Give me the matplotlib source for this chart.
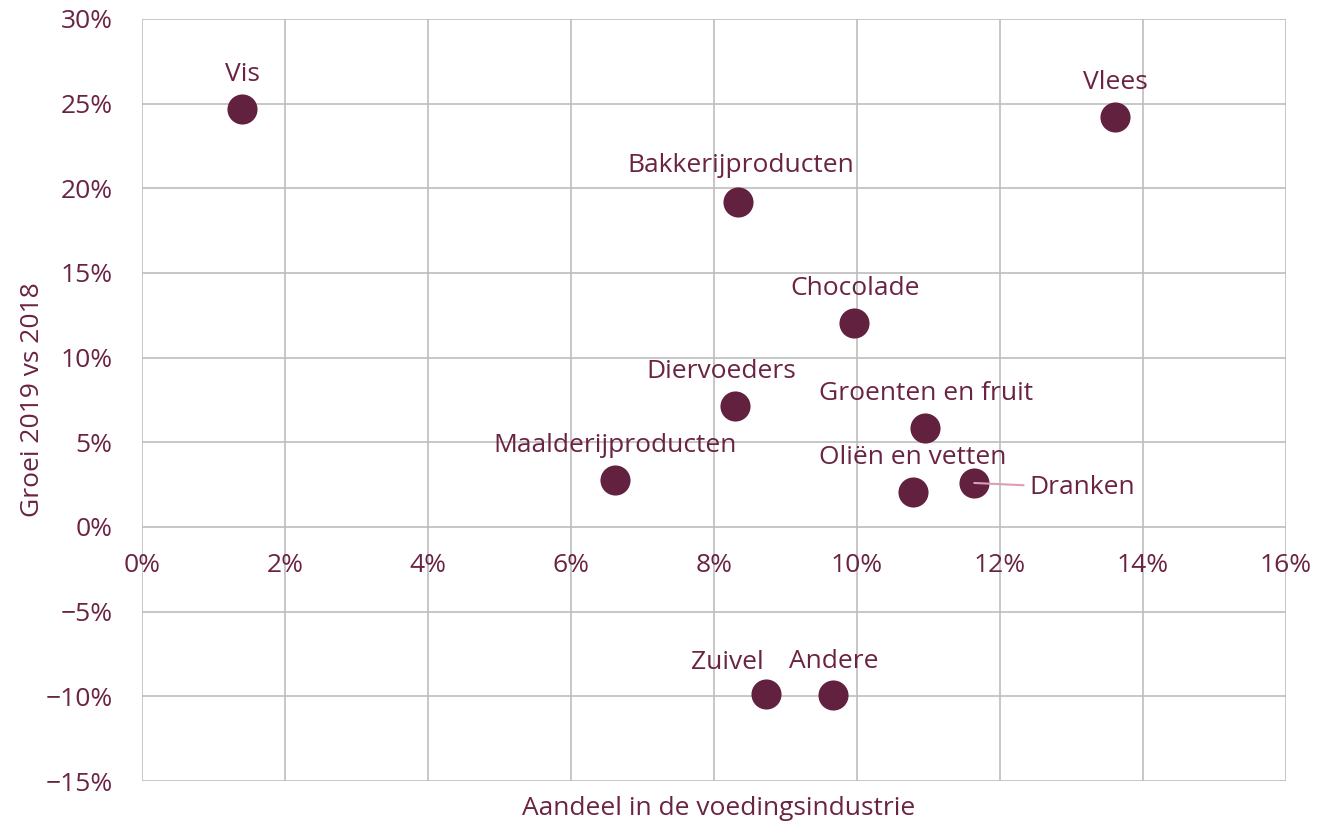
import matplotlib
matplotlib.use("Agg")
import matplotlib.pyplot as plt
from matplotlib.ticker import FuncFormatter

plt.rcParams["font.family"] = ["Open Sans", "DejaVu Sans"]

# data
categories = ["Vis", "Vlees", "Bakkerijproducten", "Chocolade", "Diervoeders",
              "Groenten en fruit", "Maalderijproducten", "Oliën en vetten",
              "Dranken", "Zuivel", "Andere"]
aandeel = [1.40, 13.61, 8.34, 9.96, 8.29, 10.95, 6.62, 10.78, 11.64, 8.73, 9.66]
groei = [24.7, 24.2, 19.2, 12.05, 7.15, 5.85, 2.78, 2.07, 2.6, -9.86, -9.92]

# label offsets in pixels (dx, dy)
offsets = {
    "Vis": (0, 34), "Vlees": (0, 35), "Bakkerijproducten": (2, 36),
    "Chocolade": (1, 34), "Diervoeders": (-13, 34), "Groenten en fruit": (1, 34),
    "Maalderijproducten": (0, 34), "Oliën en vetten": (0, 34),
    "Zuivel": (-39, 31), "Andere": (1, 33),
}

text_col = "#6B2343"
dot_col = "#62213F"
grid_col = "#BDBDBD"
fs = 19

fig = plt.figure(figsize=(13.39, 8.23), dpi=100)
ax = fig.add_axes([0.106, 0.051, 0.8544, 0.926])

ax.scatter(aandeel, groei, s=470, color=dot_col, zorder=3, linewidths=0)

for name, x, y in zip(categories, aandeel, groei):
    if name == "Dranken":
        ax.annotate(name, (x, y), xytext=(55, -5), textcoords="offset pixels",
                    ha="left", va="center", fontsize=fs, color=text_col,
                    arrowprops=dict(arrowstyle="-", color="#D9A0B8", lw=1.5,
                                    shrinkA=2, shrinkB=0))
    else:
        dx, dy = offsets[name]
        ax.annotate(name, (x, y), xytext=(dx, dy), textcoords="offset pixels",
                    ha="center", va="center", fontsize=fs, color=text_col)

ax.set_xlim(0, 16)
ax.set_ylim(-15, 30)
ax.set_xticks(range(0, 17, 2))
ax.set_yticks(range(-15, 31, 5))
ax.xaxis.set_major_formatter(FuncFormatter(lambda v, p: f"{v:.0f}%"))
ax.yaxis.set_major_formatter(FuncFormatter(lambda v, p: f"{v:.0f}%".replace("-", "\u2212")))
ax.grid(True, color=grid_col, lw=1.2)
ax.set_axisbelow(True)

for s in ax.spines.values():
    s.set_visible(False)
ax.spines["bottom"].set_position(("data", 0))

ax.tick_params(axis="both", length=0, labelsize=fs, labelcolor=text_col)
ax.tick_params(axis="x", pad=19)
ax.tick_params(axis="y", pad=21)

fig.text(0.537, 0.018, "Aandeel in de voedingsindustrie", ha="center", va="center",
         fontsize=fs, color=text_col)
fig.text(0.024, 0.514, "Groei 2019 vs 2018", ha="center", va="center",
         rotation=90, fontsize=fs, color=text_col)

fig.savefig("out.png", dpi=100)
